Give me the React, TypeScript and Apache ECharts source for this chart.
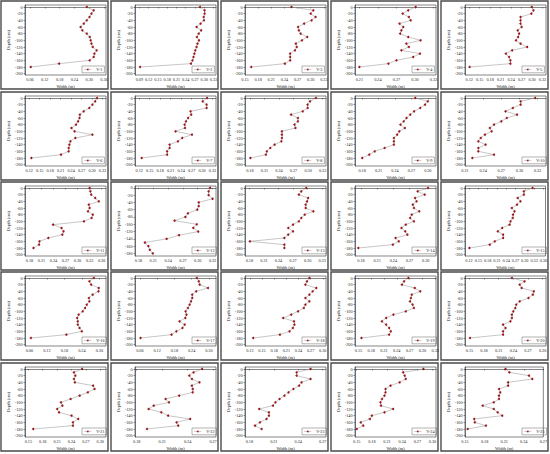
import React, { useEffect, useRef } from "react";
import * as echarts from "echarts";

const depths = [0, -10, -20, -30, -40, -50, -60, -70, -80, -90, -100, -110, -120, -130, -140, -150, -160, -170, -180];
const depthTicks = [0, -20, -40, -60, -80, -100, -120, -140, -160, -180, -200];
const depthTicksShort = [0, -20, -40, -60, -80, -100, -120, -140, -160, -180];

const panelNames = ["V-1","V-2","V-3","V-4","V-5","V-6","V-7","V-8","V-9","V-10","V-11","V-12","V-13","V-14","V-15","V-16","V-17","V-18","V-19","V-20","V-21","V-22","V-23","V-24","V-25"];

const widthV1 = [0.290,0.318,0.309,0.301,0.290,0.278,0.265,0.272,0.290,0.302,0.306,0.309,0.314,0.330,0.321,0.318,0.302,0.178,0.063];
const widthV2 = [0.286,0.301,0.301,0.298,0.299,0.288,0.275,0.290,0.282,0.276,0.283,0.278,0.275,0.271,0.268,0.265,0.262,0.257,0.092];
const widthV3 = [0.256,0.306,0.300,0.311,0.302,0.285,0.271,0.273,0.277,0.292,0.280,0.266,0.268,0.264,0.253,0.253,0.253,0.241,0.164];
const widthV4 = [0.301,0.289,0.280,0.290,0.293,0.275,0.281,0.278,0.276,0.289,0.309,0.286,0.290,0.278,0.308,0.297,0.270,0.257,0.210];
const widthV5 = [0.299,0.304,0.298,0.267,0.267,0.267,0.270,0.259,0.263,0.260,0.254,0.267,0.286,0.243,0.225,0.234,0.238,0.238,0.121];
const widthV6 = [0.314,0.309,0.301,0.292,0.276,0.265,0.264,0.260,0.254,0.241,0.250,0.301,0.252,0.238,0.235,0.233,0.233,0.211,0.126];
const widthV7 = [0.314,0.302,0.313,0.313,0.267,0.269,0.260,0.254,0.250,0.251,0.224,0.271,0.243,0.231,0.207,0.207,0.200,0.200,0.127];
const widthV8 = [0.316,0.304,0.299,0.299,0.289,0.265,0.279,0.279,0.272,0.274,0.246,0.246,0.246,0.245,0.231,0.222,0.215,0.213,0.181];
const widthV9 = [0.277,0.300,0.295,0.286,0.275,0.268,0.261,0.256,0.250,0.258,0.248,0.244,0.238,0.238,0.238,0.221,0.203,0.193,0.180];
const widthV10 = [0.326,0.302,0.302,0.289,0.277,0.296,0.279,0.270,0.258,0.251,0.254,0.243,0.236,0.232,0.244,0.232,0.232,0.258,0.222];
const widthV11 = [0.330,0.332,0.334,0.344,0.353,0.328,0.330,0.326,0.338,0.335,0.316,0.239,0.260,0.265,0.262,0.227,0.205,0.204,0.190];
const widthV12 = [0.325,0.322,0.322,0.330,0.302,0.302,0.299,0.280,0.275,0.253,0.298,0.291,0.301,0.262,0.237,0.193,0.200,0.203,0.209];
const widthV13 = [0.297,0.287,0.282,0.301,0.299,0.296,0.296,0.312,0.294,0.287,0.282,0.270,0.260,0.270,0.260,0.252,0.181,0.252,0.252];
const widthV14 = [0.304,0.285,0.298,0.280,0.283,0.276,0.278,0.288,0.274,0.271,0.278,0.263,0.255,0.262,0.266,0.244,0.250,0.239,0.175];
const widthV15 = [0.325,0.297,0.297,0.277,0.286,0.275,0.258,0.267,0.262,0.261,0.254,0.251,0.227,0.213,0.230,0.230,0.203,0.187,0.121];
const widthV16 = [0.281,0.266,0.272,0.298,0.297,0.277,0.264,0.266,0.257,0.251,0.243,0.229,0.224,0.226,0.226,0.232,0.240,0.187,0.065];
const widthV17 = [0.258,0.265,0.268,0.297,0.256,0.242,0.242,0.238,0.233,0.227,0.219,0.222,0.218,0.198,0.216,0.208,0.187,0.170,0.062];
const widthV18 = [0.267,0.261,0.257,0.284,0.275,0.267,0.257,0.267,0.257,0.253,0.239,0.222,0.202,0.229,0.230,0.226,0.218,0.194,0.128];
const widthV19 = [0.267,0.257,0.252,0.282,0.295,0.275,0.273,0.271,0.277,0.280,0.261,0.232,0.215,0.205,0.215,0.222,0.226,0.222,0.157];
const widthV20 = [0.237,0.263,0.253,0.257,0.282,0.280,0.271,0.253,0.246,0.244,0.240,0.237,0.237,0.234,0.219,0.224,0.219,0.219,0.151];
const widthV21 = [0.262,0.245,0.248,0.245,0.247,0.285,0.288,0.274,0.257,0.238,0.218,0.221,0.210,0.214,0.240,0.254,0.243,0.243,0.160];
const widthV22 = [0.257,0.247,0.242,0.245,0.254,0.245,0.246,0.246,0.230,0.214,0.218,0.200,0.194,0.209,0.217,0.243,0.227,0.229,0.192];
const widthV23 = [0.255,0.238,0.238,0.255,0.244,0.241,0.234,0.228,0.223,0.217,0.212,0.209,0.192,0.204,0.204,0.201,0.193,0.187,0.195];
const widthV24 = [0.282,0.242,0.245,0.247,0.235,0.217,0.207,0.207,0.205,0.200,0.197,0.198,0.222,0.205,0.180,0.176,0.158,0.163,0.150];
const widthV25 = [0.212,0.218,0.248,0.253,0.216,0.216,0.202,0.204,0.202,0.202,0.194,0.177,0.194,0.200,0.207,0.164,0.165,0.182,0.154];

const widthSeries = [widthV1,widthV2,widthV3,widthV4,widthV5,widthV6,widthV7,widthV8,widthV9,widthV10,widthV11,widthV12,widthV13,widthV14,widthV15,widthV16,widthV17,widthV18,widthV19,widthV20,widthV21,widthV22,widthV23,widthV24,widthV25];

const ticksA = [0.06, 0.12, 0.18, 0.24, 0.30, 0.36];
const ticksB = [0.09, 0.12, 0.15, 0.18, 0.21, 0.24, 0.27, 0.30, 0.33];
const ticksC = [0.15, 0.18, 0.21, 0.24, 0.27, 0.30, 0.33];
const ticksD = [0.21, 0.24, 0.27, 0.30, 0.33];
const ticksE = [0.12, 0.15, 0.18, 0.21, 0.24, 0.27, 0.30, 0.33];
const ticksF = [0.18, 0.21, 0.24, 0.27, 0.30, 0.33];
const ticksG = [0.18, 0.21, 0.24, 0.27, 0.30];
const ticksH = [0.18, 0.21, 0.24, 0.27, 0.30, 0.33, 0.36];
const ticksI = [0.12, 0.15, 0.18, 0.21, 0.24, 0.27, 0.30, 0.33, 0.36];
const ticksJ = [0.06, 0.12, 0.18, 0.24, 0.30];
const ticksK = [0.12, 0.15, 0.18, 0.21, 0.24, 0.27, 0.30];
const ticksL = [0.15, 0.18, 0.21, 0.24, 0.27, 0.30];
const ticksM = [0.18, 0.21, 0.24, 0.27];
const ticksN = [0.15, 0.18, 0.21, 0.24, 0.27];

const xTickSets = [ticksA, ticksB, ticksC, ticksD, ticksE, ticksE, ticksE, ticksF, ticksG, ticksD, ticksH, ticksF, ticksF, ticksG, ticksI, ticksJ, ticksJ, ticksK, ticksC, ticksL, ticksL, ticksM, ticksM, ticksL, ticksN];

const xExtents = [
  [0.040, 0.368], [0.076, 0.338], [0.150, 0.335], [0.203, 0.334], [0.108, 0.340],
  [0.108, 0.340], [0.108, 0.340], [0.170, 0.337], [0.167, 0.315], [0.210, 0.344],
  [0.169, 0.371], [0.173, 0.337], [0.171, 0.338], [0.169, 0.319], [0.107, 0.367],
  [0.045, 0.323], [0.043, 0.325], [0.108, 0.308], [0.142, 0.332], [0.141, 0.307],
  [0.143, 0.312], [0.178, 0.2735], [0.1747, 0.274], [0.1467, 0.307], [0.150, 0.270],
];

const colLefts = [0, 110, 220, 330, 440];
const rowTops = [0, 91, 181, 271, 362];

const FONT = "Liberation Serif";
const TXT = "#222";
const AX = "#333";

export default function App() {
  const ref = useRef<HTMLDivElement>(null);
  useEffect(() => {
    if (!ref.current) return;
    const chart = echarts.init(ref.current, null, { renderer: "svg" });
    const grids: any[] = [];
    const xAxes: any[] = [];
    const yAxes: any[] = [];
    const series: any[] = [];
    const legends: any[] = [];
    const graphics: any[] = [];
    panelNames.forEach((name, i) => {
      const col = i % 5;
      const row = Math.floor(i / 5);
      const L = colLefts[col];
      const T = rowTops[row];
      const short = name === "V-12";
      graphics.push({
        type: "rect",
        shape: { x: L + 1, y: T + 1, width: 107, height: 88 },
        style: { fill: "none", stroke: "#4a4a4a", lineWidth: 1.4 },
        silent: true,
      });
      grids.push({
        left: L + 25,
        top: T + 5,
        width: 81,
        height: 70,
        show: true,
        borderColor: AX,
        borderWidth: 0.6,
        backgroundColor: "transparent",
      });
      const ticks = xTickSets[i];
      xAxes.push({
        type: "value",
        gridIndex: i,
        min: xExtents[i][0],
        max: xExtents[i][1],
        axisLine: { show: true, lineStyle: { color: AX, width: 0.6 } },
        axisTick: { show: true, length: 1.5, customValues: ticks, lineStyle: { color: AX, width: 0.5 } },
        axisLabel: {
          customValues: ticks,
          formatter: (v: number) => v.toFixed(2),
          fontSize: 4.2,
          margin: 2,
          color: TXT,
          fontFamily: FONT,
        },
        splitLine: { show: false },
        name: "Width (m)",
        nameLocation: "middle",
        nameGap: 9,
        nameTextStyle: { fontSize: 4.4, color: TXT, fontFamily: FONT },
      });
      const yt = short ? depthTicksShort : depthTicks;
      yAxes.push({
        type: "value",
        gridIndex: i,
        min: short ? -187 : -204,
        max: short ? 5 : 6,
        axisLine: { show: true, lineStyle: { color: AX, width: 0.6 } },
        axisTick: { show: true, length: 1.5, customValues: yt, lineStyle: { color: AX, width: 0.5 } },
        axisLabel: {
          customValues: yt,
          formatter: (v: number) => String(Math.round(v)),
          fontSize: 4.2,
          margin: 2.5,
          color: TXT,
          fontFamily: FONT,
        },
        splitLine: { show: false },
        name: "Depth (cm)",
        nameLocation: "middle",
        nameGap: 14,
        nameTextStyle: { fontSize: 4.4, color: TXT, fontFamily: FONT },
      });
      series.push({
        type: "line",
        name,
        xAxisIndex: i,
        yAxisIndex: i,
        data: widthSeries[i].map((w, k) => [w, depths[k]]),
        symbol: "circle",
        symbolSize: 2,
        itemStyle: { color: "#a8121a", borderColor: "#5a0a0a", borderWidth: 0.2 },
        lineStyle: { color: "#8f8f8f", width: 0.5 },
        emphasis: { disabled: true },
        silent: true,
      });
      legends.push({
        data: [name],
        left: L + 82,
        top: T + 66,
        orient: "horizontal",
        itemWidth: 7,
        itemHeight: 2.2,
        itemGap: 0,
        padding: [1.4, 2],
        borderColor: "#666",
        borderWidth: 0.5,
        selectedMode: false,
        itemStyle: { borderWidth: 0 },
        lineStyle: { width: 0.5 },
        textStyle: { fontSize: 4.2, color: TXT, fontFamily: FONT },
      });
    });
    chart.setOption({
      animation: false,
      backgroundColor: "#ffffff",
      textStyle: { fontFamily: FONT },
      grid: grids,
      xAxis: xAxes,
      yAxis: yAxes,
      series,
      legend: legends,
      graphic: graphics,
    });
    return () => chart.dispose();
  }, []);
  return (
    <div
      ref={ref}
      style={{ position: "fixed", left: 0, top: 0, width: 550, height: 454, background: "#fff" }}
    />
  );
}
